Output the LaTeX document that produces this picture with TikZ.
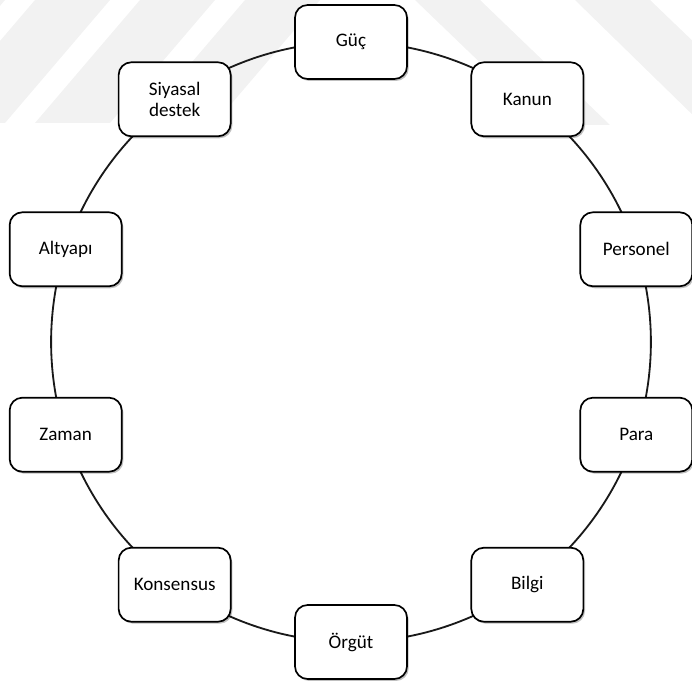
\documentclass[tikz,border=0pt]{standalone}
\usepackage{fontspec}
\setmainfont{Carlito}
\usepackage{tikz}
\usetikzlibrary{shadows}
\usetikzlibrary{backgrounds}

\tikzset{
 kutu/.style={draw=black, line width=1.2pt, rounded corners=9pt, fill=white,
   minimum width=2.8cm, minimum height=1.85cm, align=center,
   font=\fontsize{13.6}{15}\selectfont,
   drop shadow={shadow xshift=1.2pt, shadow yshift=-1.4pt, opacity=0.25, fill=black}},
 halka/.style={black!90, line width=1.3pt},
 filigran/.style={fill=black!5, draw=none}
}

\begin{document}
\begin{tikzpicture}[x=0.025cm, y=0.025cm]
\useasboundingbox (-351,-340) rectangle (341,342);

\foreach \n/\a/\t in {guc/90/Güç, kanun/54/Kanun, personel/18/Personel, para/-18/Para,
  bilgi/-54/Bilgi, orgut/-90/Örgüt, konsensus/-126/Konsensus, zaman/-162/Zaman,
  altyapi/162/Altyapı, siyasal/126/{Siyasal\\destek}}
 \node[kutu] (\n) at (\a:300) {\t};

\begin{pgfonlayer}{background}
% watermark
\begin{scope}[shift={(-351,342)}, yscale=-1]
\clip (0,0) rectangle (692,682);
\foreach \a in {-70, 35, 140, 245}
 \fill[filigran] (\a,0)--++(75,0)--++(-105,123)--++(-75,0)--cycle;
\fill[filigran] (415,0)--++(65,0)--(610,125)--(545,125)--cycle;
\fill[filigran] (575,0)--++(75,0)--(700,48)--(700,122)--cycle;
\end{scope}

\foreach \a/\b in {guc/kanun, kanun/personel, personel/para, para/bilgi, bilgi/orgut,
  orgut/konsensus, konsensus/zaman, zaman/altyapi, altyapi/siyasal, siyasal/guc}
 \draw[halka] (\a.center) to[bend left=18, looseness=0.87] (\b.center);
\end{pgfonlayer}

\end{tikzpicture}
\end{document}
